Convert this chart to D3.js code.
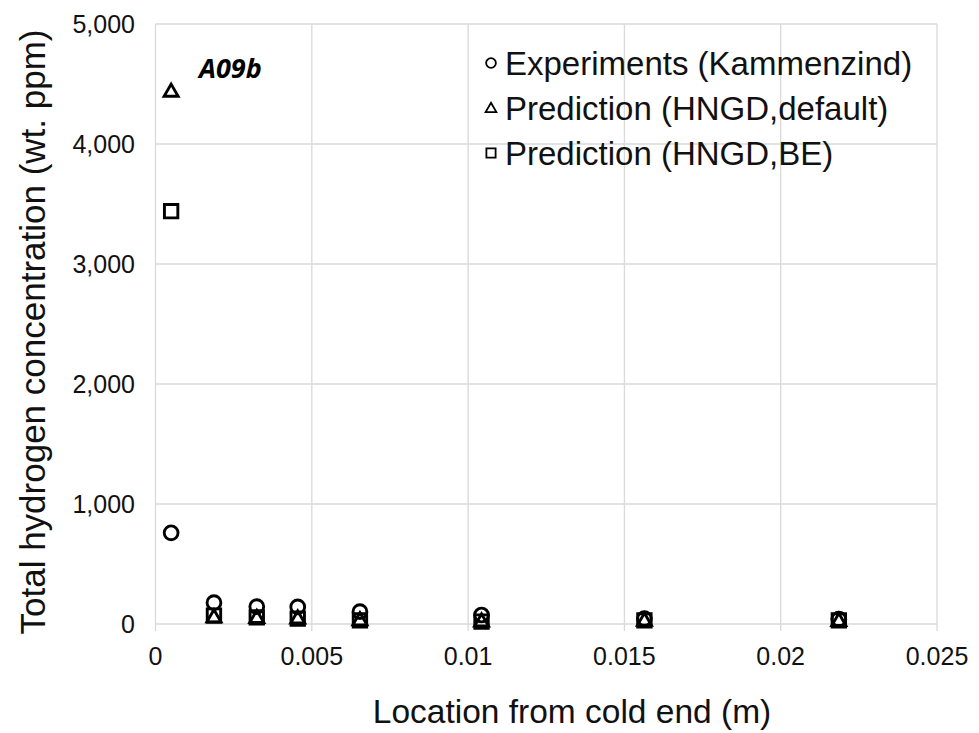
<!DOCTYPE html>
<html><head><meta charset="utf-8">
<script src="https://cdn.jsdelivr.net/npm/d3@7"></script>
<style>body{margin:0;background:#fff}svg{display:block}</style>
</head><body>
<svg id="c" width="979" height="733"></svg>
<script>
const locations = [0.0005, 0.00187, 0.00324, 0.00455, 0.00654, 0.01043, 0.01564, 0.02186];
const experiments = [760, 178, 145, 142, 103, 75, 45, 40];
const predDefault = [4440, 60, 55, 50, 35, 25, 32, 30];
const predBE = [3440, 70, 55, 45, 30, 20, 30, 30];
const xTicks = [0, 0.005, 0.01, 0.015, 0.02, 0.025];
const xTickLabels = ["0", "0.005", "0.01", "0.015", "0.02", "0.025"];
const yTicks = [0, 1000, 2000, 3000, 4000, 5000];
const yTickLabels = ["0", "1,000", "2,000", "3,000", "4,000", "5,000"];
const legendLabels = ["Experiments (Kammenzind)", "Prediction (HNGD,default)", "Prediction (HNGD,BE)"];

const svg = d3.select("#c");
const L = 155.5, R = 937, T = 24, B = 624;
const x = d3.scaleLinear().domain([0, 0.025]).range([L, R]);
const y = d3.scaleLinear().domain([0, 5000]).range([B, T]);
const font = "'Liberation Sans', Arial, Helvetica, sans-serif";
const grid = "#d9d9d9";

// gridlines
svg.append("g").selectAll("line").data(yTicks).join("line")
  .attr("x1", L).attr("x2", R).attr("y1", d => y(d)).attr("y2", d => y(d))
  .attr("stroke", grid).attr("stroke-width", 1.3);
svg.append("g").selectAll("line").data(xTicks).join("line")
  .attr("x1", d => x(d)).attr("x2", d => x(d)).attr("y1", T).attr("y2", B + 7)
  .attr("stroke", grid).attr("stroke-width", 1.3);

// tick labels
svg.append("g").selectAll("text").data(yTicks).join("text")
  .attr("x", 135).attr("y", d => y(d)).attr("dy", "0.36em")
  .attr("text-anchor", "end").attr("font-family", font).attr("font-size", 25)
  .attr("fill", "#111").text((d, i) => yTickLabels[i]);
svg.append("g").selectAll("text").data(xTicks).join("text")
  .attr("x", d => x(d)).attr("y", 665)
  .attr("text-anchor", "middle").attr("font-family", font).attr("font-size", 25)
  .attr("fill", "#111").text((d, i) => xTickLabels[i]);

// axis titles
svg.append("text").attr("x", 572).attr("y", 723).attr("text-anchor", "middle")
  .attr("font-family", font).attr("font-size", 33.5).attr("fill", "#111")
  .text("Location from cold end (m)");
svg.append("text").attr("transform", "translate(45,332) rotate(-90)").attr("text-anchor", "middle")
  .attr("font-family", font).attr("font-size", 35).attr("fill", "#111")
  .text("Total hydrogen concentration (wt. ppm)");

// annotation
svg.append("text").attr("x", 199).attr("y", 78)
  .attr("font-family", "'Open Sans', sans-serif").attr("font-weight", "bold").attr("font-style", "italic")
  .attr("font-size", 27).attr("fill", "#000").text("A09b");

// marker symbols
const sym = {
  circle: d3.symbol().type(d3.symbolCircle).size(150),
  triangle: d3.symbol().type(d3.symbolTriangle).size(85),
  square: d3.symbol().type(d3.symbolSquare).size(180)
};
function drawSeries(vals, s, dyOff) {
  svg.append("g").selectAll("path").data(vals).join("path")
    .attr("d", sym[s])
    .attr("transform", (d, i) => `translate(${x(locations[i])},${y(d) + (s === "triangle" ? dyOff : 0)})`)
    .attr("fill", "none").attr("stroke", "#000").attr("stroke-width", 2.9);
}
drawSeries(experiments, "circle", 0);
drawSeries(predBE, "square", 0);
drawSeries(predDefault, "triangle", 1);

// legend
const legSizes = [75, 50, 85];
legendLabels.forEach((lab, i) => {
  const cy = 63 + i * 45;
  svg.append("path")
    .attr("d", d3.symbol().type(i === 0 ? d3.symbolCircle : i === 1 ? d3.symbolTriangle : d3.symbolSquare).size(legSizes[i]))
    .attr("transform", `translate(491,${cy + (i === 1 ? 1 : 0)})`)
    .attr("fill", "#fff").attr("stroke", "#000").attr("stroke-width", 1.8);
  svg.append("text").attr("x", 505).attr("y", cy).attr("dy", "0.36em")
    .attr("font-family", font).attr("font-size", 33).attr("fill", "#111").text(lab);
});
</script>
</body></html>
